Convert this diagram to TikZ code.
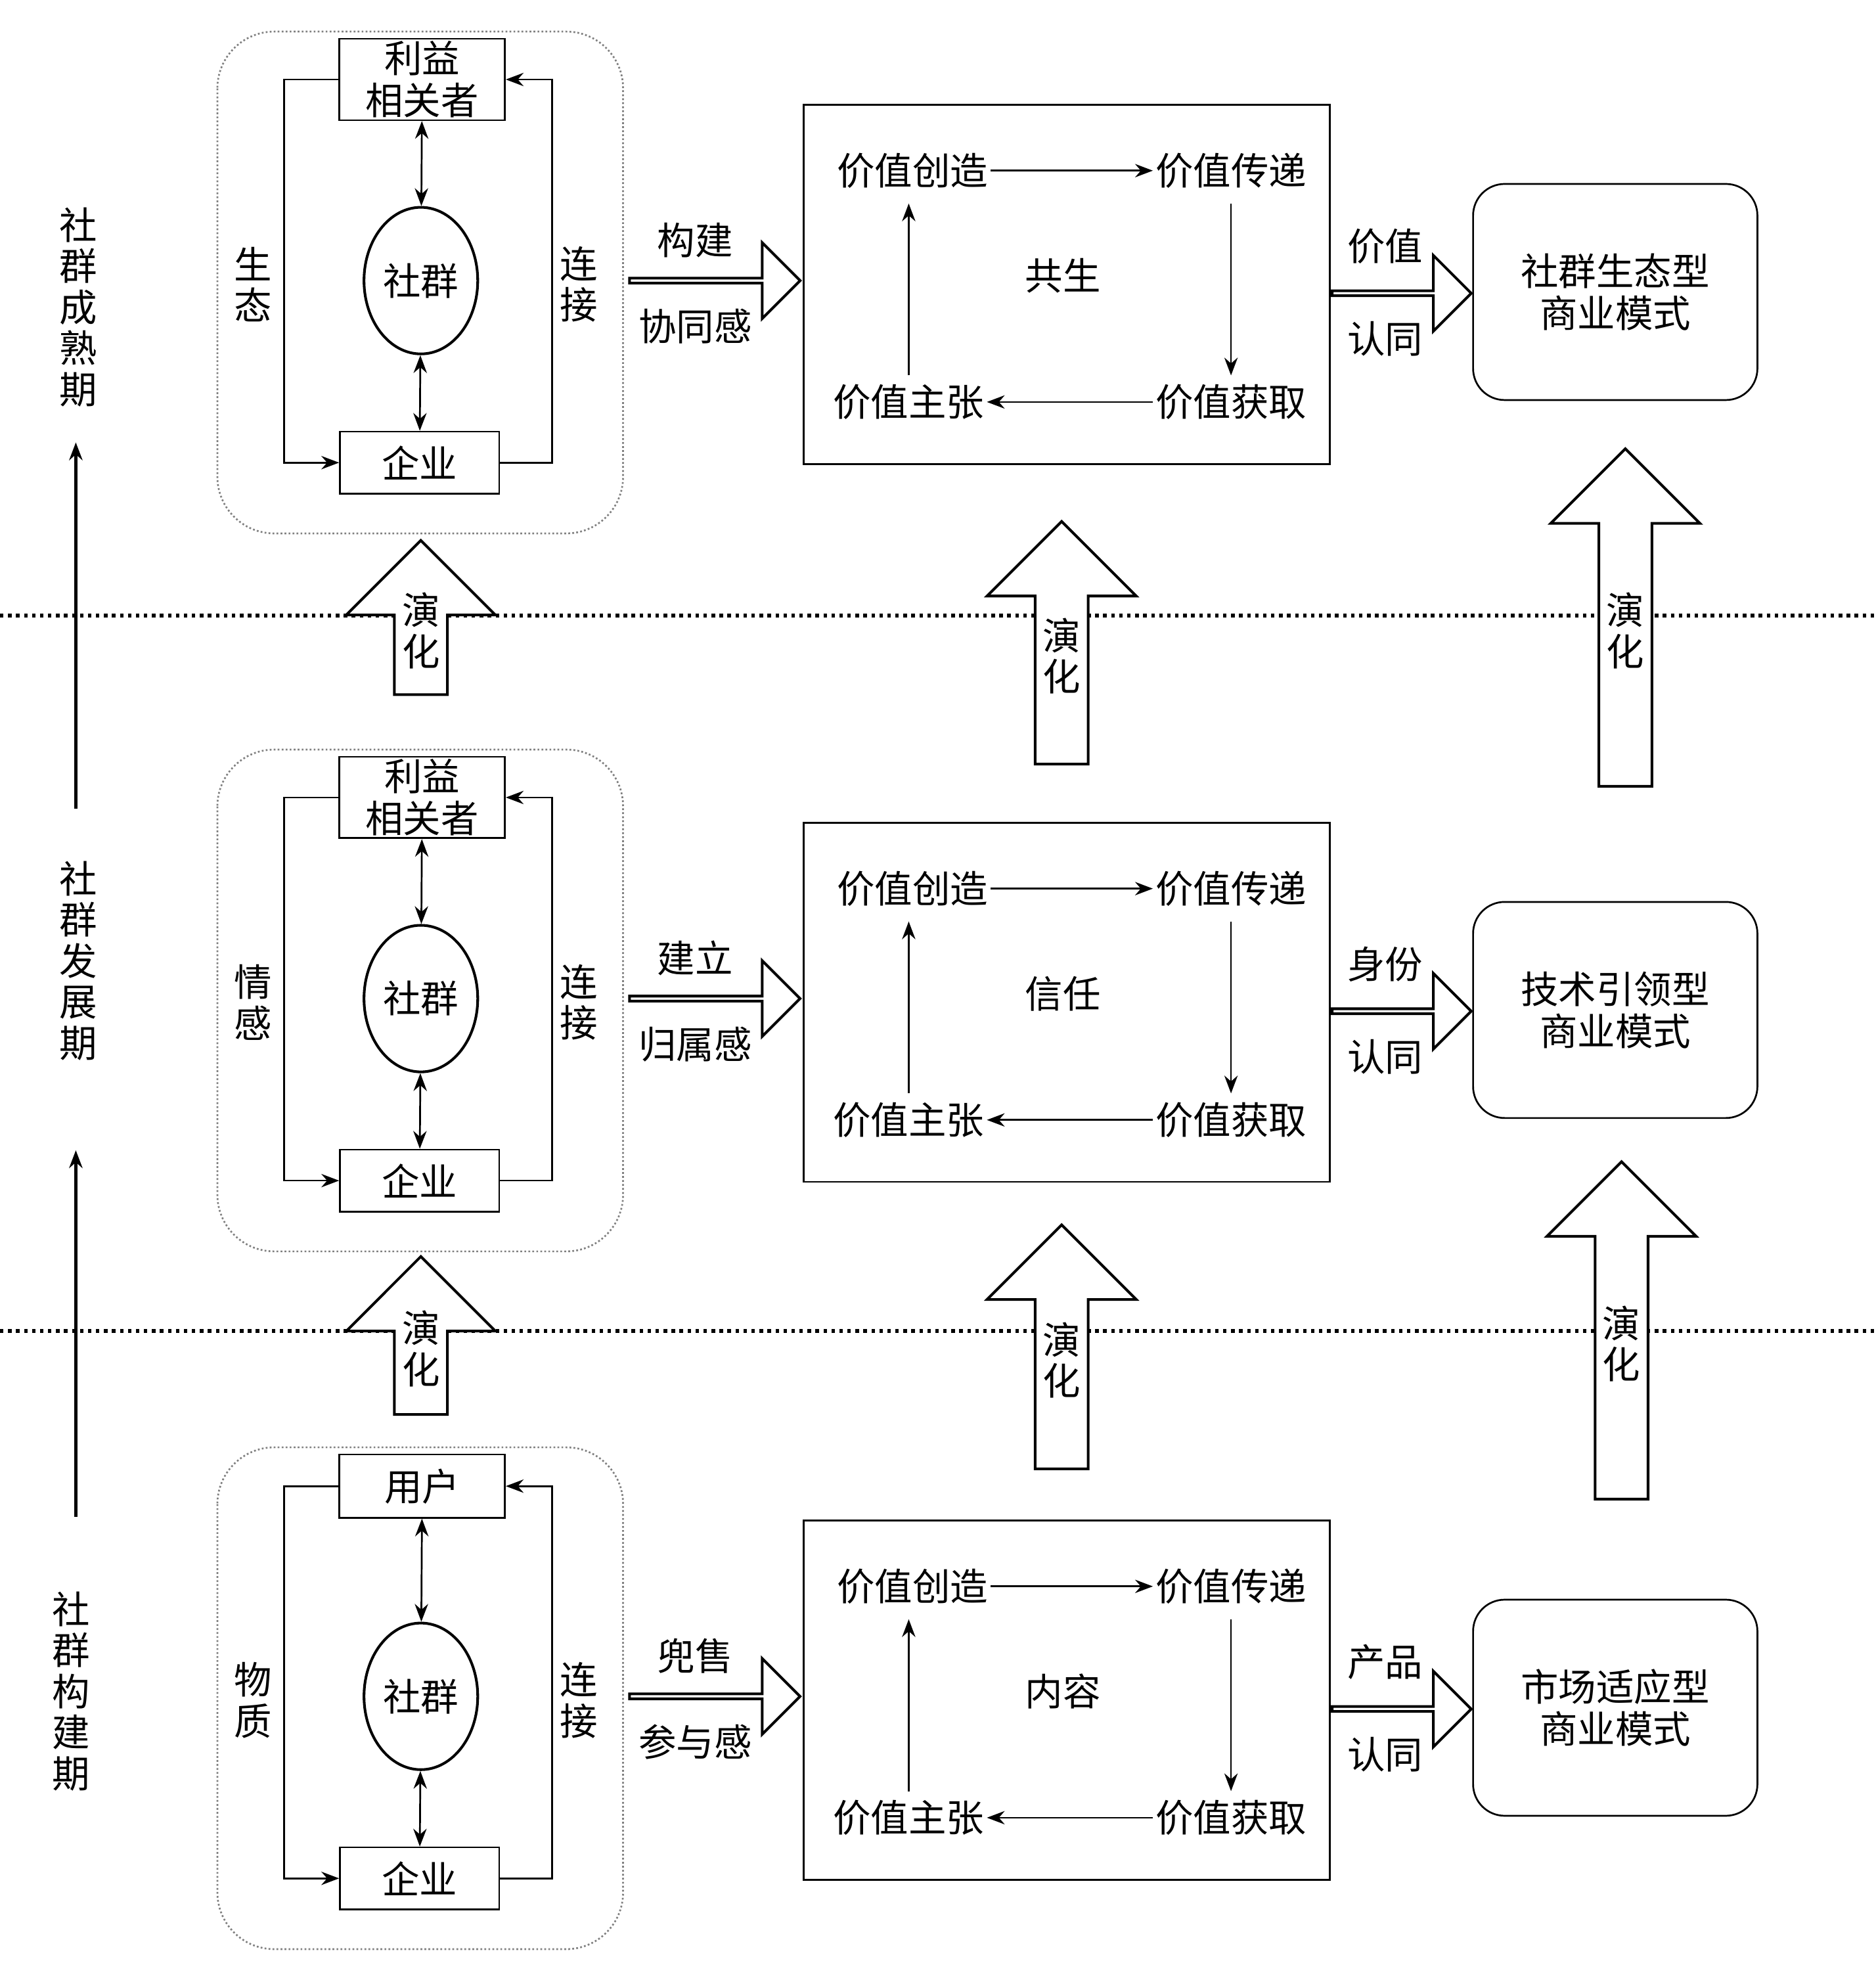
\documentclass[tikz,border=0pt]{standalone}
\usepackage{fontspec}
\setmainfont{Noto Sans CJK SC}
\usetikzlibrary{shapes.geometric,shapes.arrows,arrows.meta}

\tikzset{
  txt/.style={font=\fontsize{17}{19}\selectfont, inner sep=1pt},
  vtxt/.style={txt, align=center, font=\fontsize{17}{18.5}\selectfont},
  box/.style={draw, thick, txt, align=center, minimum width=2.62cm, minimum height=1.0cm},
  frame/.style={draw, densely dotted, thick, gray, rounded corners=0.9cm},
  bigbox/.style={draw, thick},
  endbox/.style={draw, thick, rounded corners=0.5cm, txt, align=center, minimum width=4.5cm, minimum height=3.42cm},
  comm/.style={draw, very thick, ellipse, txt, minimum width=1.8cm, minimum height=2.32cm},
  link/.style={thick, -{Stealth[length=8pt]}},
  dlink/.style={thick, {Stealth[length=8pt]}-{Stealth[length=8pt]}},
  push/.style={draw, very thick, fill=white, single arrow, minimum width=1.2cm,
    single arrow head extend=0.3cm, minimum height=2.7cm, inner sep=0pt},
  evolve/.style={draw, very thick, fill=white, single arrow, shape border rotate=90,
    minimum width=2.36cm, single arrow head extend=0.58cm, vtxt, inner sep=0pt}
}

\begin{document}
\begin{tikzpicture}[x=0.02cm, y=-0.02cm]
\useasboundingbox (0,0) rectangle (1484,1568);

% stage separators
\draw[line width=1.6pt, dotted] (0,487) -- (1484,487);
\draw[line width=1.6pt, dotted] (0,1053) -- (1484,1053);

% stage axis
\node[vtxt] (mature) at (62,243) {社\\群\\成\\熟\\期};
\node[vtxt] (grow) at (62,760) {社\\群\\发\\展\\期};
\node[vtxt] (build) at (56,1338) {社\\群\\构\\建\\期};
\coordinate (ax1) at (60,640); \coordinate (ax2) at (60,350);
\coordinate (ax3) at (60,1200); \coordinate (ax4) at (60,910);
\draw[link, line width=1.4pt] (ax1) -- (ax2);
\draw[link, line width=1.4pt] (ax3) -- (ax4);

% three stages
\foreach \r/\dy/\who/\tie/\ua/\ub/\core/\va/\vb/\mode in {
  1/0/{利益\\相关者}/{生\\态}/构建/协同感/共生/价值/认同/{社群生态型\\商业模式},
  2/568/{利益\\相关者}/{情\\感}/建立/归属感/信任/身份/认同/{技术引领型\\商业模式},
  3/1120/用户/{物\\质}/兜售/参与感/内容/产品/认同/{市场适应型\\商业模式}} {
  \begin{scope}[yshift=-\dy*0.02cm]
    \draw[frame] (172,25) rectangle (493,422);
    \node[box, anchor=north] (who\r) at (334,30) {\who};
    \node[comm] (comm\r) at (333,222) {社群};
    \node[box, minimum height=0.98cm, minimum width=2.52cm] (firm\r) at (332,366) {企业};
    \draw[dlink] (who\r) -- (comm\r);
    \draw[dlink] (comm\r) -- (firm\r);
    \draw[link] (who\r.west) -- ++(-43,0) |- (firm\r.west);
    \draw[link] (firm\r.east) -- ++(41,0) |- (who\r.east);
    \node[vtxt] (tie\r) at (200,225) {\tie};
    \node[vtxt] (join\r) at (458,225) {连\\接};

    \node[push, anchor=west] (push\r) at (497,222) {};
    \node[txt] (pa\r) at (550,190) {\ua};
    \node[txt] (pb\r) at (550,258) {\ub};

    \draw[bigbox] (636,83) rectangle (1052,367);
    \node[txt] (make\r) at (722,135) {价值创造};
    \node[txt] (pass\r) at (974,135) {价值传递};
    \node[txt] (claim\r) at (719,318) {价值主张};
    \node[txt] (gain\r) at (974,318) {价值获取};
    \node[txt] (core\r) at (841,218) {\core};
    \draw[link] (make\r) -- (pass\r);
    \draw[link] ([yshift=-0.2cm]pass\r.south) -- ([yshift=0.1cm]gain\r.north);
    \draw[link] (gain\r) -- (claim\r);
    \draw[link] ([yshift=0.1cm]claim\r.north) -- ([yshift=-0.2cm]claim\r.north |- make\r.south);

    \node[push, anchor=west, minimum height=2.2cm] (accept\r) at (1053,232) {};
    \node[txt] (aa\r) at (1096,195) {\va};
    \node[txt] (ab\r) at (1096,268) {\vb};
    \node[endbox] (mode\r) at (1278,231) {\mode};
  \end{scope}
}

% evolution arrows
\node[evolve, minimum height=2.44cm] (ev1) at (333,499) {演\\化};
\node[evolve, minimum height=3.84cm] (ev2) at (840,519) {演\\化};
\node[evolve, minimum height=5.34cm] (ev3) at (1286,499) {演\\化};
\node[evolve, minimum height=2.5cm] (ev4) at (333,1067) {演\\化};
\node[evolve, minimum height=3.86cm] (ev5) at (840,1076) {演\\化};
\node[evolve, minimum height=5.34cm] (ev6) at (1283,1063) {演\\化};
\end{tikzpicture}
\end{document}
